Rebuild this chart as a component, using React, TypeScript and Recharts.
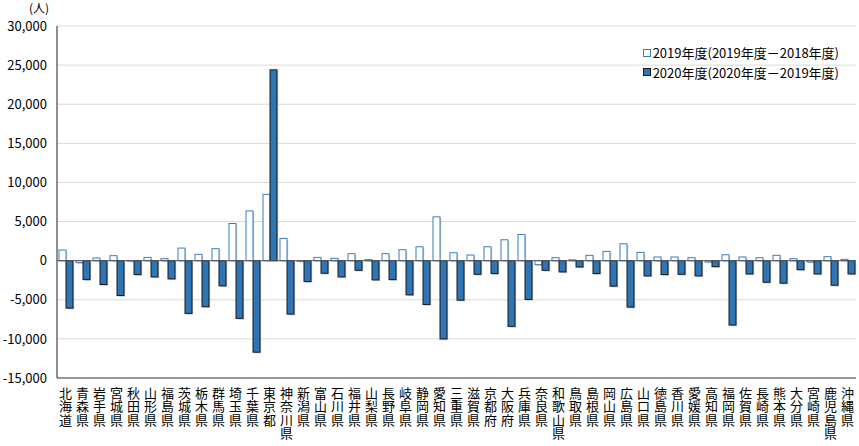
import {
  Bar,
  BarChart,
  CartesianGrid,
  ReferenceLine,
  XAxis,
  YAxis,
} from "recharts";

document.body.style.margin = "0";

const prefectures = [
  "北海道", "青森県", "岩手県", "宮城県", "秋田県", "山形県", "福島県",
  "茨城県", "栃木県", "群馬県", "埼玉県", "千葉県", "東京都", "神奈川県",
  "新潟県", "富山県", "石川県", "福井県", "山梨県", "長野県", "岐阜県",
  "静岡県", "愛知県", "三重県", "滋賀県", "京都府", "大阪府", "兵庫県",
  "奈良県", "和歌山県", "鳥取県", "島根県", "岡山県", "広島県", "山口県",
  "徳島県", "香川県", "愛媛県", "高知県", "福岡県", "佐賀県", "長崎県",
  "熊本県", "大分県", "宮崎県", "鹿児島県", "沖縄県",
];

// 2019年度 (2019年度－2018年度)
const fy2019 = [
  1360, -250, 340, 640, -60, 420, 250,
  1610, 810, 1530, 4750, 6360, 8480, 2840,
  -80, 420, 300, 890, 130, 890, 1400,
  1780, 5600, 1020, 720, 1780, 2670, 3350,
  -510, 380, 100, 680, 1190, 2160, 1060,
  470, 470, 380, -170, 760, 470, 380,
  680, 250, -170, 510, 170,
];

// 2020年度 (2020年度－2019年度)
const fy2020 = [
  -6070, -2420, -3050, -4450, -1780, -2080, -2330,
  -6740, -5890, -3220, -7380, -11700, 24400, -6830,
  -2670, -1610, -2080, -1230, -2460, -2420, -4370,
  -5600, -10010, -5050, -1740, -1650, -8400, -4960,
  -1230, -1440, -810, -1650, -3260, -5940, -1950,
  -1780, -1740, -1950, -760, -8230, -1700, -2760,
  -2880, -1150, -1700, -3140, -1700,
];

const yTicks = [-15000, -10000, -5000, 0, 5000, 10000, 15000, 20000, 25000, 30000];

const seriesNames = ["2019年度(2019年度－2018年度)", "2020年度(2020年度－2019年度)"];

const data = prefectures.map((name, i) => ({
  name,
  fy2019: fy2019[i],
  fy2020: fy2020[i],
}));

const FONT = '"Noto Sans CJK JP", "Noto Sans", sans-serif';
const FRAME = "#404040";

// prefecture names stacked one character per row
function VerticalTick({ x, y, payload }: any) {
  const chars = String(payload.value).split("");
  return (
    <g>
      {chars.map((c, i) => (
        <text
          key={i}
          x={x}
          y={y + 20 + i * 13.4}
          textAnchor="middle"
          fontSize={13}
          fontFamily={FONT}
          fill="#000"
        >
          {c}
        </text>
      ))}
    </g>
  );
}

// bar with a faint drop shadow, like the spreadsheet export
function ShadowBar(props: any) {
  const { x, y, width, height, fill, stroke } = props;
  if (!width || height == null) return null;
  const top = Math.min(y, y + height);
  const h = Math.abs(height);
  return (
    <g>
      <rect x={x + 1.2} y={top + 1.2} width={width} height={h} fill="#c8c8c8" />
      <rect x={x} y={top} width={width} height={h} fill={fill} stroke={stroke} strokeWidth={1} />
    </g>
  );
}

function LegendBox() {
  const items = [
    { label: seriesNames[0], fill: "#ffffff", stroke: "#3d7cc0" },
    { label: seriesNames[1], fill: "#2e75b6", stroke: "#1a1a1a" },
  ];
  return (
    <div
      style={{
        position: "absolute",
        right: 20,
        top: 43,
        fontFamily: FONT,
        fontSize: 13,
        color: "#000",
        lineHeight: "19.5px",
      }}
    >
      {items.map((it) => (
        <div key={it.label} style={{ display: "flex", alignItems: "center" }}>
          <span
            style={{
              display: "inline-block",
              width: 6,
              height: 6,
              background: it.fill,
              border: `1px solid ${it.stroke}`,
              marginRight: 2,
            }}
          />
          <span>{it.label}</span>
        </div>
      ))}
    </div>
  );
}

export default function App() {
  return (
    <div style={{ position: "relative", width: 859, height: 446, background: "#fff" }}>
      <BarChart
        width={859}
        height={446}
        data={data}
        margin={{ top: 26, right: 3, bottom: 0, left: 0 }}
        barGap={0}
        barSize={7}
      >
        <CartesianGrid horizontal vertical={false} stroke="#d9d9d9" />
        <XAxis
          dataKey="name"
          interval={0}
          height={68}
          tickLine={false}
          tickSize={0}
          tickMargin={0}
          axisLine={{ stroke: FRAME }}
          tick={<VerticalTick />}
        />
        <XAxis
          xAxisId="top"
          orientation="top"
          dataKey="name"
          height={0}
          tick={false}
          tickLine={false}
          axisLine={{ stroke: FRAME }}
        />
        <YAxis
          width={57}
          domain={[-15000, 30000]}
          ticks={yTicks}
          tickFormatter={(v: number) => v.toLocaleString("en-US")}
          tickLine={false}
          axisLine={{ stroke: "#202020" }}
          tick={{ fill: "#000", fontSize: 13, fontFamily: FONT }}
          tickMargin={4}
        />
        <YAxis
          yAxisId="right"
          orientation="right"
          width={0}
          domain={[-15000, 30000]}
          tick={false}
          tickLine={false}
          axisLine={{ stroke: FRAME }}
        />
        <Bar
          dataKey="fy2019"
          name={seriesNames[0]}
          fill="#ffffff"
          stroke="#3d7cc0"
          shape={<ShadowBar />}
          isAnimationActive={false}
        />
        <Bar
          dataKey="fy2020"
          name={seriesNames[1]}
          fill="#2e75b6"
          stroke="#1a1a1a"
          shape={<ShadowBar />}
          isAnimationActive={false}
        />
        <ReferenceLine y={0} stroke="#595959" strokeWidth={1} />
      </BarChart>
      <div
        style={{
          position: "absolute",
          left: 29,
          top: 1,
          fontFamily: FONT,
          fontSize: 12,
          lineHeight: "13px",
          color: "#000",
        }}
      >
        (人)
      </div>
      <LegendBox />
    </div>
  );
}
